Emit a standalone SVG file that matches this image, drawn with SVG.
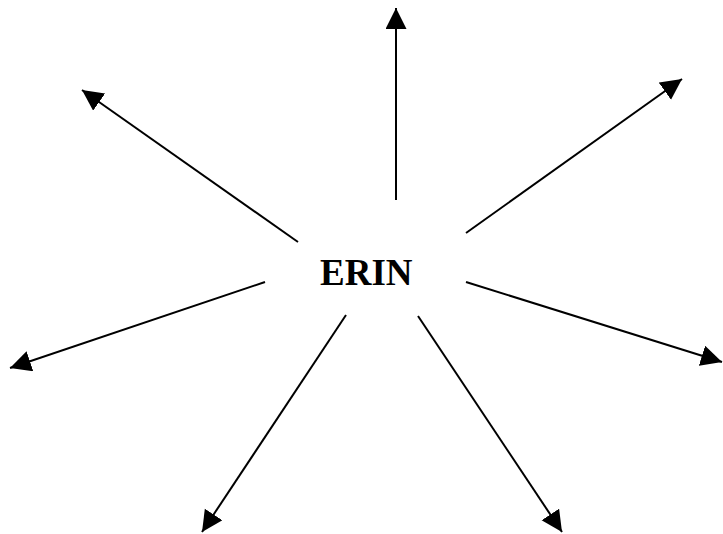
<svg xmlns="http://www.w3.org/2000/svg" width="723" height="534" viewBox="0 0 723 534">
<style>
.c line{stroke:#000;stroke-width:2;fill:none;marker-end:url(#ah)}
.t{font-family:"Liberation Serif","Times New Roman",serif;font-weight:bold;font-size:37px;fill:#000}
</style>
<defs>
<marker id="ah" markerUnits="userSpaceOnUse" markerWidth="22" markerHeight="22" viewBox="0 0 22 22" refX="21" refY="10.5" orient="auto">
<path d="M0,0 L21,10.5 L0,21 z" fill="#000"/>
</marker>
</defs>
<rect width="723" height="534" fill="#fff"/>
<g id="center"><text class="t" x="320" y="285">ERIN</text></g>
<g class="c" id="connectors">
<line x1="396" y1="200" x2="396" y2="8"/>
<line x1="298" y1="242" x2="82" y2="90"/>
<line x1="466" y1="233" x2="682" y2="79"/>
<line x1="265" y1="282" x2="10" y2="368"/>
<line x1="466" y1="282" x2="722" y2="362"/>
<line x1="346" y1="315" x2="202" y2="532"/>
<line x1="418" y1="316" x2="562" y2="532"/>
</g>
</svg>
